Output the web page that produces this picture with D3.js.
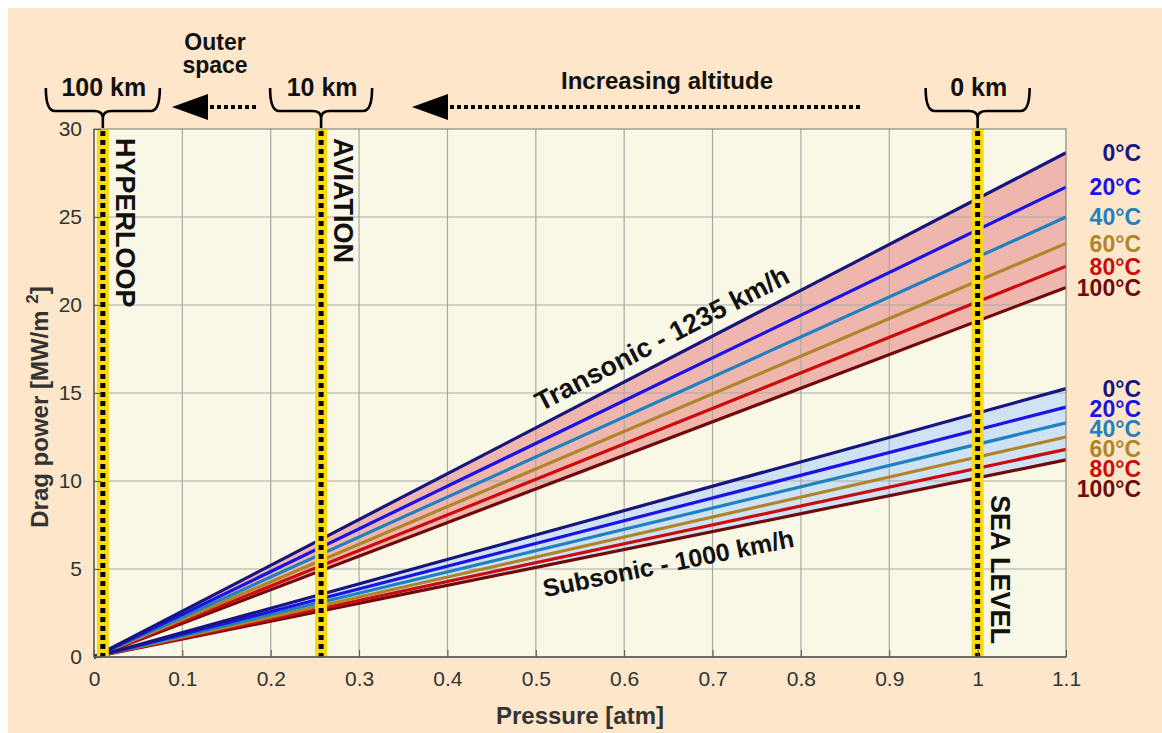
<!DOCTYPE html>
<html>
<head>
<meta charset="utf-8">
<script src="https://cdn.jsdelivr.net/npm/d3@7"></script>
<style>
  html, body { margin: 0; padding: 0; background: #ffffff; }
  svg { display: block; font-family: "Liberation Sans", Arial, Helvetica, sans-serif; }
</style>
</head>
<body>
<svg id="chart" width="1162" height="733"></svg>
<script>
// chart data
const tempLabels = ['0°C', '20°C', '40°C', '60°C', '80°C', '100°C'];
const tempColors = ['#17157e', '#1a12e6', '#1f80c2', '#b0852a', '#cc0c0c', '#700a0a'];
const pressureRange = [0, 1.1];
const transonicEnd = [28.65, 26.7, 25.0, 23.5, 22.2, 21.0];   // MW/m2 at 1.1 atm
const subsonicEnd = [15.25, 14.2, 13.3, 12.5, 11.8, 11.2];
const xTicks = [0, 0.1, 0.2, 0.3, 0.4, 0.5, 0.6, 0.7, 0.8, 0.9, 1, 1.1];
const yTicks = [0, 5, 10, 15, 20, 25, 30];
const markerP = [0.01, 0.257, 1.0];
const markerLabels = ['HYPERLOOP', 'AVIATION', 'SEA LEVEL'];
const altLabels = ['100 km', '10 km', '0 km'];

const svg = d3.select('#chart');
const margin = {t: 129, r: 96, b: 76, l: 94};
const W = 1162, H = 733;
const w = W - margin.l - margin.r;
const h = H - margin.t - margin.b;

// background
svg.append('rect').attr('x', 8).attr('y', 8).attr('width', W - 8).attr('height', H - 8)
    .attr('fill', '#fde6c9');

const scaleX = d3.scaleLinear().domain([0, 1.1]).range([0, w]);
const scaleY = d3.scaleLinear().domain([0, 30]).range([h, 0]);

const g = svg.append('g').attr('transform', `translate(${margin.l},${margin.t})`);

g.append('rect').attr('width', w).attr('height', h).attr('fill', '#f9f7e6');

// series built from endpoints
const toSeries = ends => ends.map(v => pressureRange.map(p => ({p: p, v: p === 0 ? 0 : v})));
const transonic = toSeries(transonicEnd);
const subsonic = toSeries(subsonicEnd);

const line = d3.line().x(d => scaleX(d.p)).y(d => scaleY(d.v));

// fills between 0°C and 100°C
function band(series, color) {
    const top = series[0], bot = series[series.length - 1];
    const area = d3.area()
        .x(d => scaleX(d.p))
        .y0((d, i) => scaleY(bot[i].v))
        .y1(d => scaleY(d.v));
    g.append('path').datum(top).attr('d', area).attr('fill', color);
}
band(transonic, '#efb6ae');
band(subsonic, '#cfe2f4');

// grid
g.append('g').selectAll('line').data(xTicks.slice(1, -1)).join('line')
    .attr('x1', d => scaleX(d)).attr('x2', d => scaleX(d))
    .attr('y1', 0).attr('y2', h)
    .attr('stroke', '#a9a9a2').attr('stroke-width', 1.2);
g.append('g').selectAll('line').data(yTicks.slice(1, -1)).join('line')
    .attr('y1', d => scaleY(d)).attr('y2', d => scaleY(d))
    .attr('x1', 0).attr('x2', w)
    .attr('stroke', '#a9a9a2').attr('stroke-width', 1.2);

// temperature lines
[transonic, subsonic].forEach(group => {
    g.append('g').selectAll('path').data(group.slice().reverse()).join('path')
        .attr('d', line)
        .attr('fill', 'none')
        .attr('stroke', (d, i) => tempColors[group.length - 1 - i])
        .attr('stroke-width', 3.2);
});

// yellow marker bands with dotted black line
markerP.forEach((p, i) => {
    const x = scaleX(p);
    g.append('line').attr('x1', x).attr('x2', x).attr('y1', 0).attr('y2', h)
        .attr('stroke', '#fbd90c').attr('stroke-width', 12);
    g.append('line').attr('x1', x).attr('x2', x).attr('y1', 2).attr('y2', h)
        .attr('stroke', '#000').attr('stroke-width', 5).attr('stroke-dasharray', '5,4');
});

// rotated marker labels
const markerTextY = [9, 9, 366];
markerP.forEach((p, i) => {
    g.append('text')
        .attr('transform', `translate(${scaleX(p) + 13},${markerTextY[i]}) rotate(90)`)
        .attr('font-size', 27).attr('font-weight', 'bold').attr('fill', '#111')
        .text(markerLabels[i]);
});

// axes box
g.append('rect').attr('width', w).attr('height', h).attr('fill', 'none')
    .attr('stroke', '#8a8a84').attr('stroke-width', 1.2);
g.append('line').attr('x1', 0).attr('x2', w).attr('y1', h).attr('y2', h)
    .attr('stroke', '#555').attr('stroke-width', 1.3);
g.append('line').attr('x1', 0).attr('x2', 0).attr('y1', 0).attr('y2', h)
    .attr('stroke', '#555').attr('stroke-width', 1.3);

// axes
const xAxis = d3.axisBottom(scaleX).tickValues(xTicks).tickSizeInner(-7).tickSizeOuter(0)
    .tickPadding(14).tickFormat(d => String(d));
const yAxis = d3.axisLeft(scaleY).tickValues(yTicks).tickSizeInner(-7).tickSizeOuter(0)
    .tickPadding(12).tickFormat(d => String(d));
const gx = g.append('g').attr('transform', `translate(0,${h})`).call(xAxis);
const gy = g.append('g').call(yAxis);
[gx, gy].forEach(a => {
    a.select('.domain').remove();
    a.selectAll('.tick line').attr('stroke', '#555');
    a.selectAll('.tick text').attr('font-size', 21).attr('fill', '#333')
        .attr('font-family', '"Liberation Sans", Arial, sans-serif');
});

// axis titles
g.append('text').attr('x', w / 2).attr('y', h + 67).attr('text-anchor', 'middle')
    .attr('font-size', 24).attr('font-weight', 'bold').attr('fill', '#333')
    .text('Pressure [atm]');
const yt = g.append('text')
    .attr('transform', `translate(-46,${h / 2 + 14}) rotate(-90)`)
    .attr('text-anchor', 'middle')
    .attr('font-size', 24).attr('font-weight', 'bold').attr('fill', '#333');
yt.append('tspan').text('Drag power [MW/m ');
yt.append('tspan').attr('font-size', 17).attr('dy', -10).text('2');
yt.append('tspan').attr('dy', 10).text(']');

// temperature labels on the right, spread if crowded
function tempLabelsFor(ends) {
    let prev = -Infinity;
    ends.forEach((v, i) => {
        let y = Math.max(scaleY(v), prev + 20);
        prev = y;
        svg.append('text')
            .attr('x', 1141).attr('y', margin.t + y).attr('dy', '0.36em')
            .attr('text-anchor', 'end')
            .attr('font-size', 23).attr('font-weight', 'bold')
            .attr('fill', tempColors[i])
            .text(tempLabels[i]);
    });
}
tempLabelsFor(transonicEnd);
tempLabelsFor(subsonicEnd);

// slanted regime labels
function slantLabel(series, p, offset, size, text) {
    const a = series[1];
    const angle = Math.atan2(scaleY(a.v) - scaleY(0), scaleX(a.p) - scaleX(0)) * 180 / Math.PI;
    const v = a.v * p / a.p;
    g.append('text')
        .attr('transform', `translate(${scaleX(p)},${scaleY(v)}) rotate(${angle})`)
        .attr('dy', offset)
        .attr('font-size', size).attr('font-weight', 'bold').attr('fill', '#111')
        .text(text);
}
slantLabel(transonic[0], 0.512, -12, 27, 'Transonic - 1235 km/h');
slantLabel(subsonic[subsonic.length - 1], 0.503, 31, 25, 'Subsonic - 1000 km/h');

// top annotations: braces with altitude labels
function bracePath(cx, hw, y0, y1, y2) {
    const r = 9;
    return `M${cx - hw},${y0} Q${cx - hw},${y1} ${cx - hw + r},${y1} L${cx - r},${y1} ` +
        `Q${cx},${y1} ${cx},${y1 + 7} L${cx},${y2} M${cx},${y1 + 7} Q${cx},${y1} ${cx + r},${y1} ` +
        `L${cx + hw - r},${y1} Q${cx + hw},${y1} ${cx + hw},${y0}`;
}
const braceHalf = [57, 51, 52];
markerP.forEach((p, i) => {
    const cx = margin.l + scaleX(p);
    svg.append('path').attr('d', bracePath(cx, braceHalf[i], 88, 111, 128))
        .attr('fill', 'none').attr('stroke', '#000').attr('stroke-width', 2.6);
    svg.append('text').attr('x', cx + 1).attr('y', 96).attr('text-anchor', 'middle')
        .attr('font-size', 25).attr('font-weight', 'bold').attr('fill', '#111')
        .text(altLabels[i]);
});

// arrows
function arrow(xTip, xEnd, y) {
    svg.append('path')
        .attr('d', `M${xTip},${y} L${xTip + 36},${y - 13} L${xTip + 36},${y + 13} Z`)
        .attr('fill', '#000');
    svg.append('line').attr('x1', xTip + 38).attr('x2', xEnd).attr('y1', y).attr('y2', y)
        .attr('stroke', '#000').attr('stroke-width', 4).attr('stroke-dasharray', '4,3');
}
arrow(172, 258, 107);
arrow(412, 860, 107);

svg.append('text').attr('x', 215).attr('y', 50).attr('text-anchor', 'middle')
    .attr('font-size', 23).attr('font-weight', 'bold').attr('fill', '#111').text('Outer');
svg.append('text').attr('x', 215).attr('y', 73).attr('text-anchor', 'middle')
    .attr('font-size', 23).attr('font-weight', 'bold').attr('fill', '#111').text('space');
svg.append('text').attr('x', 667).attr('y', 89).attr('text-anchor', 'middle')
    .attr('font-size', 24).attr('font-weight', 'bold').attr('fill', '#111')
    .text('Increasing altitude');
</script>
</body>
</html>
